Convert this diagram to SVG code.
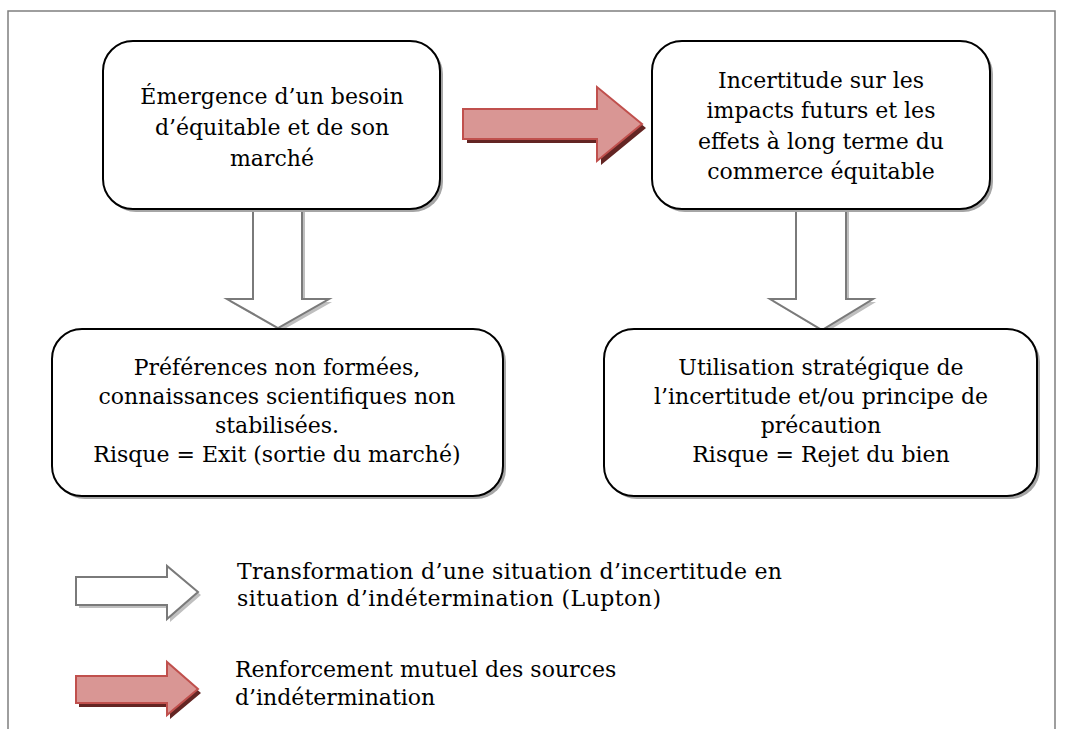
<svg xmlns="http://www.w3.org/2000/svg" width="1065" height="729" viewBox="0 0 1065 729">
<defs>
<style>
.frame{fill:none;stroke:#7f7f7f;stroke-width:1.5}
.box{fill:#fff;stroke:#000;stroke-width:2}
.boxsh{fill:#a6a6a6}
.t{font-family:"DejaVu Serif","Liberation Serif",serif;font-size:22px;fill:#000}
.c{text-anchor:middle}
.warr{fill:#fff;stroke:#7a7a7a;stroke-width:2;stroke-linejoin:miter}
.warrsh{fill:#bfbfbf}
.rarr{fill:#d99694;stroke:#c0504d;stroke-width:2}
.rarrsh{fill:#632523}
</style>
</defs>
<rect width="1065" height="729" fill="#fff"/>
<path class="frame" d="M8,729 V11 H1055 V729"/>

<g id="connectors">
  <g id="arrow-red-top">
    <path class="rarrsh" transform="translate(4,4)" d="M463,109 H597 V87 L642,124 L597,161 V139 H463 Z"/>
    <path class="rarr" d="M463,109 H597 V87 L642,124 L597,161 V139 H463 Z"/>
  </g>
  <g id="arrow-down-left">
    <path class="warrsh" transform="translate(3,3)" d="M253,209 H302 V299 H329 L278,328 L227,299 H253 Z"/>
    <path class="warr" d="M253,209 V299 H227 L278,328 L329,299 H302 V209"/>
  </g>
  <g id="arrow-down-right">
    <path class="warrsh" transform="translate(3,3)" d="M796,209 H846 V299 H873 L822,330 L770,299 H796 Z"/>
    <path class="warr" d="M796,209 V299 H770 L822,330 L873,299 H846 V209"/>
  </g>
</g>

<g id="node-emergence">
  <rect class="boxsh" x="106" y="44" width="337" height="168" rx="30"/>
  <rect class="box" x="103" y="41" width="337" height="168" rx="30"/>
  <text class="t c" x="272" y="104">Émergence d’un besoin</text>
  <text class="t c" x="272" y="135">d’équitable et de son</text>
  <text class="t c" x="272" y="166">marché</text>
</g>

<g id="node-incertitude">
  <rect class="boxsh" x="655" y="44" width="338" height="168" rx="30"/>
  <rect class="box" x="652" y="41" width="338" height="168" rx="30"/>
  <text class="t c" x="821" y="88">Incertitude sur les</text>
  <text class="t c" x="821" y="118">impacts futurs et les</text>
  <text class="t c" x="821" y="149">effets à long terme du</text>
  <text class="t c" x="821" y="179">commerce équitable</text>
</g>

<g id="node-preferences">
  <rect class="boxsh" x="55" y="332" width="451" height="167" rx="30"/>
  <rect class="box" x="52" y="329" width="451" height="167" rx="30"/>
  <text class="t c" x="277" y="375">Préférences non formées,</text>
  <text class="t c" x="277" y="404">connaissances scientifiques non</text>
  <text class="t c" x="277" y="433">stabilisées.</text>
  <text class="t c" x="277" y="462">Risque = Exit (sortie du marché)</text>
</g>

<g id="node-utilisation">
  <rect class="boxsh" x="607" y="332" width="433" height="167" rx="30"/>
  <rect class="box" x="604" y="329" width="433" height="167" rx="30"/>
  <text class="t c" x="821" y="375">Utilisation stratégique de</text>
  <text class="t c" x="821" y="404">l’incertitude et/ou principe de</text>
  <text class="t c" x="821" y="433">précaution</text>
  <text class="t c" x="821" y="462">Risque = Rejet du bien</text>
</g>

<g id="legend-white">
  <path class="warrsh" transform="translate(3,3)" d="M76,577 H167 V566 L198,592 L167,619 V605 H76 Z"/>
  <path class="warr" d="M76,577 H167 V566 L198,592 L167,619 V605 H76 Z"/>
  <text class="t" x="237" y="579" textLength="545" lengthAdjust="spacing">Transformation d’une situation d’incertitude en</text>
  <text class="t" x="237" y="606" textLength="424" lengthAdjust="spacing">situation d’indétermination (Lupton)</text>
</g>

<g id="legend-red">
  <path class="rarrsh" transform="translate(3,4)" d="M76,676 H167 V662 L198,689 L167,715 V703 H76 Z"/>
  <path class="rarr" d="M76,676 H167 V662 L198,689 L167,715 V703 H76 Z"/>
  <text class="t" x="235" y="677">Renforcement mutuel des sources</text>
  <text class="t" x="235" y="705">d’indétermination</text>
</g>
</svg>
